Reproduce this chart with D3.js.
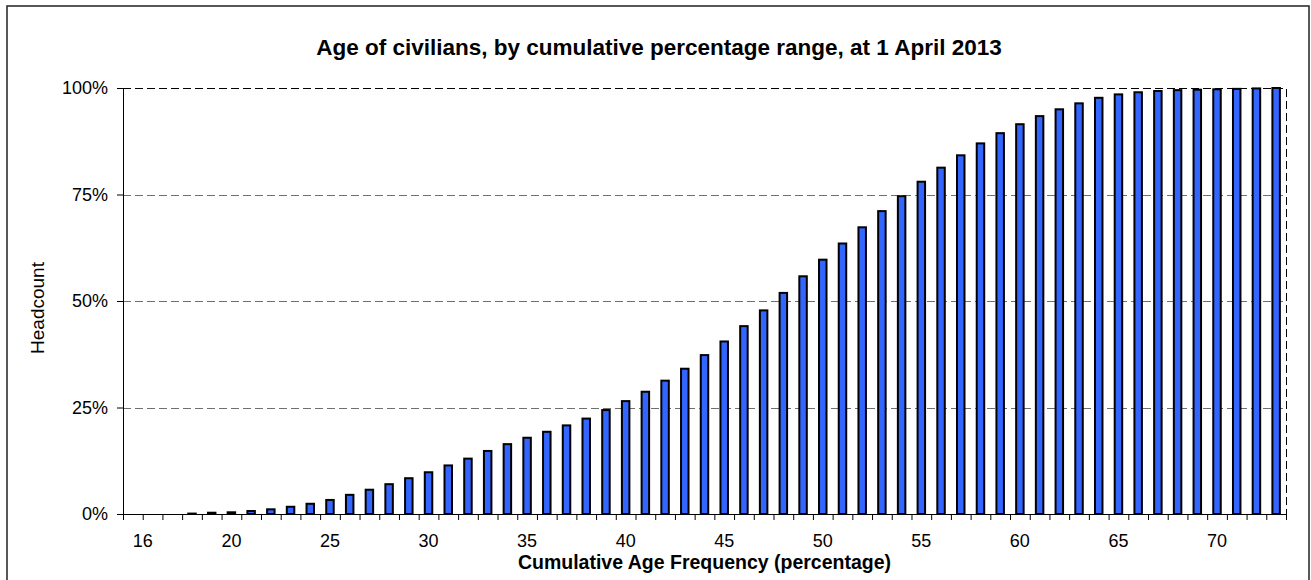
<!DOCTYPE html>
<html>
<head>
<meta charset="utf-8">
<script src="https://cdn.jsdelivr.net/npm/d3@7"></script>
<style>
  html, body { margin: 0; padding: 0; background: #fff; }
  svg { display: block; font-family: Arial, "Liberation Sans", sans-serif; }
</style>
</head>
<body>
<svg id="chart" width="1311" height="580"></svg>
<script>
// ---- data ----
const ages = d3.range(15, 74); // 15..73
const headcountShare = [
  0, 0, 0, 0.001, 0.003, 0.004, 0.007, 0.011, 0.017, 0.024,
  0.033, 0.045, 0.057, 0.070, 0.084, 0.098, 0.114, 0.130, 0.148, 0.164,
  0.179, 0.193, 0.208, 0.224, 0.244, 0.265, 0.287, 0.313, 0.341, 0.373,
  0.405, 0.441, 0.478, 0.519, 0.558, 0.597, 0.635, 0.673, 0.711, 0.746,
  0.780, 0.813, 0.842, 0.870, 0.894, 0.915, 0.934, 0.950, 0.964, 0.977,
  0.985, 0.990, 0.993, 0.995, 0.996, 0.997, 0.998, 0.999, 1.000
];
const xLabelAt = [15.5, 20, 25, 30, 35, 40, 45, 50, 55, 60, 65, 70];
const xLabelText = ["16", "20", "25", "30", "35", "40", "45", "50", "55", "60", "65", "70"];
const yTicks = [0, 0.25, 0.5, 0.75, 1];
const titleText = "Age of civilians, by cumulative percentage range, at 1 April 2013";
const xTitleText = "Cumulative Age Frequency (percentage)";
const yTitleText = "Headcount";

// ---- layout ----
const svg = d3.select("#chart");
const plot = { left: 123, right: 1286, top: 88, bottom: 514 };

const x = d3.scaleLinear()
  .domain([ages[0] - 0.5, ages[ages.length - 1] + 0.5])
  .range([plot.left, plot.right]);
const y = d3.scaleLinear().domain([0, 1]).range([plot.bottom, plot.top]);
const step = x(1) - x(0);
const barW = step * 0.38;
const crisp = v => Math.round(v) + 0.5;

// outer chart border
svg.append("rect")
  .attr("x", 7).attr("y", 6)
  .attr("width", 1302).attr("height", 600)
  .attr("fill", "none").attr("stroke", "#222").attr("stroke-width", 1.5);

// title
svg.append("text")
  .attr("x", 659).attr("y", 55)
  .attr("text-anchor", "middle")
  .attr("font-weight", "bold").attr("font-size", 22.5)
  .text(titleText);

// gridlines
svg.append("g").selectAll("line")
  .data(yTicks.filter(d => d > 0 && d < 1))
  .join("line")
  .attr("x1", plot.left).attr("x2", plot.right)
  .attr("y1", d => crisp(y(d))).attr("y2", d => crisp(y(d)))
  .attr("stroke", "#707070").attr("stroke-width", 1)
  .attr("stroke-dasharray", "8,4");

// plot area border (top and right dashed black)
svg.append("path")
  .attr("d", `M${plot.left},${crisp(y(1))}H${crisp(plot.right)}V${plot.bottom}`)
  .attr("fill", "none").attr("stroke", "#000").attr("stroke-width", 1)
  .attr("stroke-dasharray", "8,4");

// bars
svg.append("g").selectAll("rect")
  .data(ages.map((a, i) => ({ age: a, v: headcountShare[i] })))
  .join("rect")
  .attr("x", d => x(d.age) - barW / 2)
  .attr("width", barW)
  .attr("y", d => y(d.v))
  .attr("height", d => y(0) - y(d.v))
  .attr("fill", "#3366FF")
  .attr("stroke", "#000").attr("stroke-width", 2);

// y axis
const yAxis = svg.append("g")
  .attr("transform", `translate(${plot.left},0)`)
  .call(d3.axisLeft(y).tickValues(yTicks).tickSize(6).tickPadding(9)
    .tickFormat(d3.format(".0%")));
yAxis.select(".domain").attr("stroke", "#000").attr("d", `M0.5,${plot.top}V${plot.bottom}`);
yAxis.selectAll(".tick line").attr("stroke", "#000");
yAxis.selectAll("text").attr("font-size", 18).attr("fill", "#000")
  .attr("font-family", "Arial, 'Liberation Sans', sans-serif");

// x axis: ticks at category boundaries
const boundaries = d3.range(ages.length + 1).map(i => ages[0] - 0.5 + i);
const xAxis = svg.append("g")
  .attr("transform", `translate(0,${plot.bottom})`)
  .call(d3.axisBottom(x).tickValues(boundaries).tickSize(6).tickFormat(""));
xAxis.select(".domain").attr("stroke", "#000").attr("d", `M${plot.left},0.5H${plot.right}`);
xAxis.selectAll(".tick line").attr("stroke", "#000");

// x labels
svg.append("g").selectAll("text")
  .data(xLabelAt.map((v, i) => ({ v, t: xLabelText[i] })))
  .join("text")
  .attr("x", d => x(d.v)).attr("y", 547)
  .attr("text-anchor", "middle").attr("font-size", 18)
  .text(d => d.t);

// axis titles
svg.append("text")
  .attr("x", (plot.left + plot.right) / 2).attr("y", 569)
  .attr("text-anchor", "middle")
  .attr("font-weight", "bold").attr("font-size", 19.5)
  .text(xTitleText);

svg.append("text")
  .attr("transform", `translate(44,308) rotate(-90)`)
  .attr("text-anchor", "middle").attr("font-size", 19)
  .text(yTitleText);
</script>
</body>
</html>
